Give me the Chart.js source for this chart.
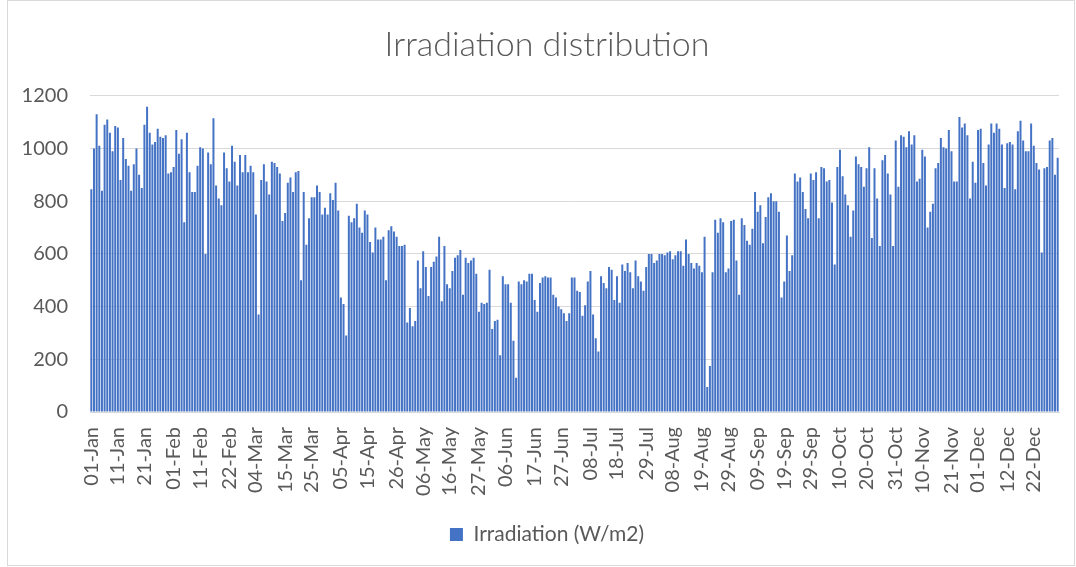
<!DOCTYPE html>
<html lang="en">
<head>
<meta charset="UTF-8">
<title>Irradiation distribution</title>
<script src="https://cdn.jsdelivr.net/npm/chart.js"></script>
<style>
    html, body { margin: 0; padding: 0; background: #fff; }
    canvas { display: block; }
</style>
</head>
<body>
<canvas id="irrChart" width="1076" height="567"></canvas>
<script>
    // daily peak irradiation (W/m2), one array per month
    const jan = [845, 1000, 1130, 1010, 840, 1090, 1110, 1060, 990, 1085, 1080, 880, 1040, 960, 935, 840, 940, 1000, 900, 850, 1090, 1158, 1060, 1015, 1025, 1075, 1045, 1040, 1050, 905, 910];
    const feb = [930, 1070, 980, 1035, 720, 1060, 910, 835, 835, 935, 1005, 1000, 600, 985, 940, 1115, 860, 810, 785, 985, 925, 875, 1010, 950, 860, 975, 910, 975];
    const mar = [910, 935, 910, 750, 370, 880, 940, 875, 825, 950, 945, 930, 905, 725, 755, 870, 890, 835, 910, 915, 500, 835, 635, 735, 815, 815, 860, 835, 750, 775, 750];
    const apr = [830, 805, 870, 765, 435, 410, 290, 745, 720, 735, 790, 700, 680, 765, 750, 645, 605, 700, 655, 655, 665, 500, 690, 705, 685, 665, 630, 630, 635, 340];
    const may = [395, 325, 345, 575, 470, 610, 550, 440, 550, 570, 590, 665, 420, 630, 485, 470, 535, 585, 595, 615, 445, 585, 565, 575, 585, 525, 380, 415, 410, 415, 540];
    const jun = [315, 345, 350, 215, 515, 485, 485, 415, 270, 130, 495, 485, 500, 495, 525, 525, 425, 380, 490, 510, 515, 510, 510, 445, 435, 400, 390, 375, 345, 375];
    const jul = [510, 510, 460, 455, 365, 405, 495, 535, 370, 280, 230, 515, 490, 470, 550, 540, 425, 515, 415, 560, 535, 565, 530, 470, 575, 515, 495, 460, 550, 600, 600];
    const aug = [565, 575, 600, 600, 595, 605, 610, 580, 595, 610, 610, 555, 655, 600, 565, 545, 565, 555, 530, 665, 95, 175, 530, 730, 680, 735, 720, 530, 545, 725, 730];
    const sep = [575, 445, 735, 710, 650, 635, 695, 835, 760, 785, 640, 740, 815, 830, 800, 800, 760, 435, 495, 670, 535, 595, 905, 875, 890, 835, 770, 735, 905, 880];
    const oct = [910, 735, 930, 925, 875, 880, 795, 560, 930, 995, 895, 825, 785, 665, 765, 970, 940, 930, 855, 925, 1005, 660, 925, 810, 630, 955, 975, 905, 825, 630, 1030];
    const nov = [855, 1050, 1045, 1005, 1065, 1015, 1050, 875, 885, 995, 970, 700, 760, 790, 925, 945, 1040, 1005, 1000, 1070, 990, 875, 875, 1120, 1080, 1095, 1050, 810, 950, 870];
    const dec = [1070, 1075, 945, 860, 1015, 1095, 1060, 1095, 1075, 1015, 850, 1020, 1025, 1015, 845, 1065, 1105, 1030, 990, 990, 1095, 1010, 945, 920, 605, 925, 930, 1030, 1040, 900, 965];

    const monthNames = ['Jan', 'Feb', 'Mar', 'Apr', 'May', 'Jun', 'Jul', 'Aug', 'Sep', 'Oct', 'Nov', 'Dec'];
    const monthValues = [jan, feb, mar, apr, may, jun, jul, aug, sep, oct, nov, dec];

    // labels that Excel actually shows on the axis
    const tickLabels = ['01-Jan', '11-Jan', '21-Jan', '01-Feb', '11-Feb', '22-Feb', '04-Mar', '15-Mar', '25-Mar',
        '05-Apr', '15-Apr', '26-Apr', '06-May', '16-May', '27-May', '06-Jun', '17-Jun', '27-Jun', '08-Jul',
        '18-Jul', '29-Jul', '08-Aug', '19-Aug', '29-Aug', '09-Sep', '19-Sep', '29-Sep', '10-Oct', '20-Oct',
        '31-Oct', '10-Nov', '21-Nov', '01-Dec', '12-Dec', '22-Dec'];

    let days = [];
    let irradiation = [];
    monthValues.forEach((vals, m) => {
        vals.forEach((v, i) => {
            days.push(String(i + 1).padStart(2, '0') + '-' + monthNames[m]);
            irradiation.push(v);
        });
    });

    const grey = '#595959';
    const gridGrey = '#d9d9d9';

    // thin frame like the Excel chart area
    const chartFrame = {
        id: 'chartFrame',
        beforeDraw(chart) {
            const ctx = chart.ctx;
            ctx.save();
            ctx.fillStyle = '#fff';
            ctx.fillRect(0, 0, chart.width, chart.height);
            ctx.strokeStyle = gridGrey;
            ctx.lineWidth = 1;
            ctx.strokeRect(7.5, 0.5, chart.width - 9, chart.height - 2);
            ctx.restore();
        }
    };

    Chart.defaults.font.family = 'Lato, "Noto Sans", sans-serif';
    Chart.defaults.color = grey;

    new Chart(document.getElementById('irrChart'), {
        type: 'bar',
        data: {
            labels: days,
            datasets: [{
                label: 'Irradiation (W/m2)',
                data: irradiation,
                backgroundColor: '#4472C4',
                borderWidth: 0,
                categoryPercentage: 1,
                barPercentage: 0.75
            }]
        },
        options: {
            responsive: false,
            animation: false,
            // negative right padding keeps title and legend centred like Excel,
            // the x scale padding below pulls the plot back to its real right edge
            layout: { padding: { left: 0, right: -18, top: 0, bottom: 12 } },
            plugins: {
                title: {
                    display: true,
                    text: 'Irradiation distribution',
                    color: grey,
                    font: { size: 34, weight: 300 },
                    padding: { top: 25, bottom: 30 }
                },
                legend: {
                    position: 'bottom',
                    labels: {
                        color: grey,
                        font: { size: 21 },
                        boxWidth: 13,
                        boxHeight: 13,
                        padding: 10
                    }
                },
                tooltip: { enabled: false }
            },
            scales: {
                x: {
                    grid: { display: false, drawTicks: false },
                    border: { display: true, color: gridGrey },
                    ticks: {
                        autoSkip: false,
                        minRotation: 90,
                        maxRotation: 90,
                        padding: 15,
                        font: { size: 20 },
                        callback: function (value, index) {
                            const lab = days[index];
                            return tickLabels.includes(lab) ? lab : '';
                        }
                    },
                    afterFit(scale) {
                        scale.height = 102;
                        scale.paddingLeft = 0;
                        scale.paddingRight = 17;
                    }
                },
                y: {
                    min: 0,
                    max: 1200,
                    grid: { color: gridGrey, drawTicks: false },
                    border: { display: false },
                    ticks: {
                        stepSize: 200,
                        padding: 22,
                        font: { size: 20 },
                        callback: (value) => String(value)
                    },
                    afterFit(scale) { scale.width = 90; }
                }
            }
        },
        plugins: [chartFrame]
    });
</script>
</body>
</html>
